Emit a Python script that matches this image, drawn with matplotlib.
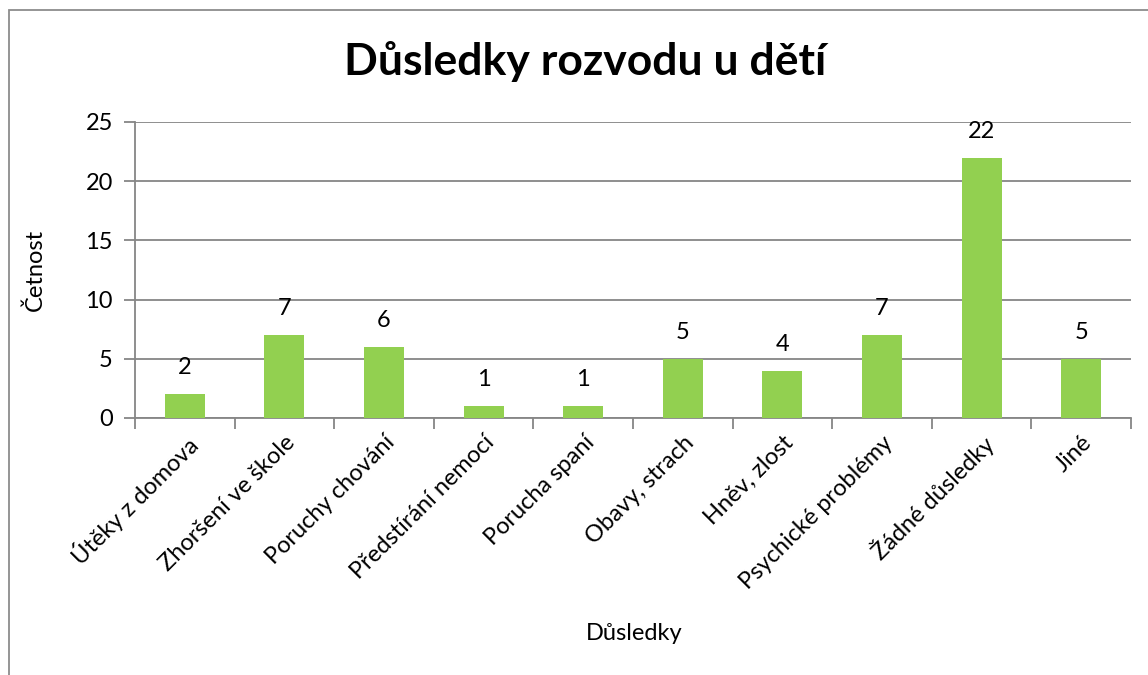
import matplotlib.pyplot as plt
from matplotlib.patches import Rectangle

plt.rcParams['font.family'] = ['Lato', 'DejaVu Sans']

kategorie = ["Útěky z domova", "Zhoršení ve škole", "Poruchy chování", "Předstírání nemocí",
             "Porucha spaní", "Obavy, strach", "Hněv, zlost", "Psychické problémy",
             "Žádné důsledky", "Jiné"]
cetnost = [2, 7, 6, 1, 1, 5, 4, 7, 22, 5]
y_ticks = [0, 5, 10, 15, 20, 25]

W, H = 1148, 675
fs = 17
fig = plt.figure(figsize=(W / 100, H / 100), dpi=100)
fig.patches.append(Rectangle((9 / W, -0.1), 1.2, 1 - 10 / H + 0.1, transform=fig.transFigure,
                             fill=False, edgecolor="#8c8c8c", linewidth=1.3))

ax = fig.add_axes([135 / W, 1 - 418 / H, (1131 - 135) / W, (418 - 122) / H])
grey = "#868686"
x = range(len(kategorie))
ax.bar(x, cetnost, width=0.4, color="#92d050", zorder=3)
for i, v in enumerate(cetnost):
    ax.annotate(str(v), (i, v), xytext=(0, 19), textcoords="offset points",
                ha="center", va="center", fontsize=fs)

ax.set_xlim(-0.5, len(kategorie) - 0.5)
ax.set_ylim(0, 25)
ax.set_yticks(y_ticks)
ax.yaxis.grid(True, color=grey, linewidth=1.3, zorder=0)
ax.tick_params(axis="y", length=8, width=1.3, color=grey, labelsize=fs, pad=8)
ax.set_xticks([i - 0.5 for i in range(len(kategorie) + 1)], minor=False)
ax.set_xticklabels([])
ax.set_xticks(list(x), minor=True)
ax.set_xticklabels(kategorie, minor=True, rotation=45, ha="right", rotation_mode="anchor",
                   fontsize=fs)
ax.tick_params(axis="x", which="major", length=8, width=1.3, color=grey)
ax.tick_params(axis="x", which="minor", length=0, pad=10)
for s in ["top", "right"]:
    ax.spines[s].set_visible(False)
for s in ["left", "bottom"]:
    ax.spines[s].set_color(grey)
    ax.spines[s].set_linewidth(1.3)

fig.text(585 / W, 1 - 62 / H, "Důsledky rozvodu u dětí", ha="center", va="center",
         fontsize=32, fontweight="bold")
fig.text(35 / W, 1 - 270 / H, "Četnost", rotation=90, ha="center", va="center", fontsize=fs)
fig.text(634 / W, 1 - 633 / H, "Důsledky", ha="center", va="center", fontsize=fs)

fig.savefig("out.png", dpi=100)
